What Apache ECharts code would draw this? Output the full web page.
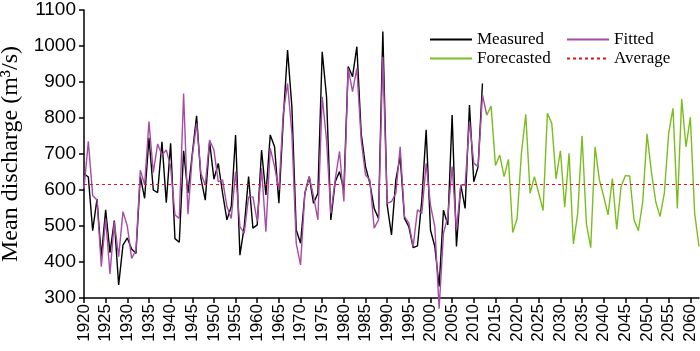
<!DOCTYPE html>
<html>
<head>
<meta charset="utf-8">
<script src="https://cdn.jsdelivr.net/npm/echarts@6/dist/echarts.min.js"></script>
<style>html,body{margin:0;padding:0;background:#fff}#c{width:700px;height:351px}</style>
</head>
<body>
<div id="c"></div>
<script>
const startYear = 1920;
const endYear = 2062;
const yTicks = [300, 400, 500, 600, 700, 800, 900, 1000, 1100];
const averageValue = 615;

// Measured 1920-2012
const measured = [645,636,487,575,415,545,426,515,336,447,
  467,436,424,637,577,745,600,593,734,565,
  730,465,455,709,591,700,806,632,572,734,
  630,674,591,517,554,753,419,498,637,494,
  503,711,586,753,720,563,794,989,831,489,
  452,591,637,563,591,984,859,517,623,651,
  600,943,915,998,757,665,619,549,521,1040,
  558,475,628,693,521,498,440,445,572,767,
  489,443,332,544,503,808,443,614,549,836,
  623,665,896];
// Fitted 1920-2013
const fitted = [605,735,585,572,387,520,367,512,415,540,
  500,410,432,655,615,790,648,728,697,711,
  665,531,521,868,533,693,785,646,614,739,
  711,623,628,554,521,651,498,480,581,581,
  512,660,484,716,665,600,813,896,757,452,
  392,591,637,582,517,859,739,535,628,707,
  568,938,873,938,739,642,628,494,517,970,
  563,568,591,720,526,508,443,545,535,674,
  558,498,270,480,526,665,489,614,614,790,
  674,665,864,808];
// Forecasted 2013-2062
const forecasted = [808,833,668,697,637,685,482,521,702,810,
  591,637,591,543,813,785,631,709,552,702,
  450,535,750,506,440,720,628,582,531,632,
  491,609,640,639,517,487,566,756,651,568,
  526,591,757,827,549,853,720,802,535,443];

const years = [];
for (let y = startYear; y <= endYear; y++) years.push(String(y));
const toPairs = (arr, y0) => arr.map((v, i) => [String(y0 + i), v]);

const serif = 'Liberation Serif';
const sans = 'Liberation Sans';
const legendCommon = {
  orient: 'vertical', top: 25, itemWidth: 42, itemHeight: 14, itemGap: 0,
  itemStyle: {opacity: 0},
  textStyle: {fontFamily: serif, fontSize: 17, color: '#000', lineHeight: 19}
};
const chart = echarts.init(document.getElementById('c'), null, {renderer: 'canvas'});
chart.setOption({
  animation: false,
  backgroundColor: '#fff',
  grid: {left: 84, right: 1, top: 10, bottom: 53, containLabel: false, outerBoundsMode: 'none'},
  legend: [
    Object.assign({left: 424, data: ['Measured', 'Forecasted']}, legendCommon),
    Object.assign({left: 561, data: ['Fitted', 'Average']}, legendCommon)
  ],
  xAxis: {
    type: 'category', data: years, boundaryGap: false,
    axisLine: {lineStyle: {color: '#000', width: 1.5}},
    axisTick: {interval: 4, length: 5, lineStyle: {color: '#000', width: 1.5}},
    axisLabel: {interval: 4, rotate: 90, color: '#000', fontFamily: sans, fontSize: 17, margin: 6},
    splitLine: {show: false}
  },
  yAxis: {
    type: 'value', min: yTicks[0], max: yTicks[yTicks.length - 1], interval: 100,
    name: 'Mean discharge (m³/s)', nameLocation: 'middle', nameGap: 58,
    nameTextStyle: {fontFamily: serif, fontSize: 24, color: '#000'},
    axisLine: {show: true, lineStyle: {color: '#000', width: 1.5}},
    axisTick: {show: true, length: 5, lineStyle: {color: '#000', width: 1.5}},
    axisLabel: {color: '#000', fontFamily: sans, fontSize: 19, margin: 8,
      formatter: v => String(v)},
    splitLine: {show: false}
  },
  series: [
    {name: 'Measured', type: 'line', symbol: 'none', clip: false,
     data: toPairs(measured, 1920), lineStyle: {color: '#000', width: 1.4}, itemStyle: {color: '#000'}},
    {name: 'Fitted', type: 'line', symbol: 'none', clip: false,
     data: toPairs(fitted, 1920), lineStyle: {color: '#a64ca6', width: 1.4}, itemStyle: {color: '#a64ca6'}},
    {name: 'Forecasted', type: 'line', symbol: 'none', clip: false,
     data: toPairs(forecasted, 2013), lineStyle: {color: '#7cbd1e', width: 1.4}, itemStyle: {color: '#7cbd1e'}},
    {name: 'Average', type: 'line', symbol: 'none', data: [],
     lineStyle: {color: '#e0141c', width: 1, type: [3, 3]}, itemStyle: {color: '#e0141c'},
     markLine: {silent: true, symbol: 'none', label: {show: false},
       lineStyle: {color: '#e0141c', width: 1, type: [3, 3]},
       data: [{yAxis: averageValue}]}}
  ]
});
</script>
</body>
</html>
